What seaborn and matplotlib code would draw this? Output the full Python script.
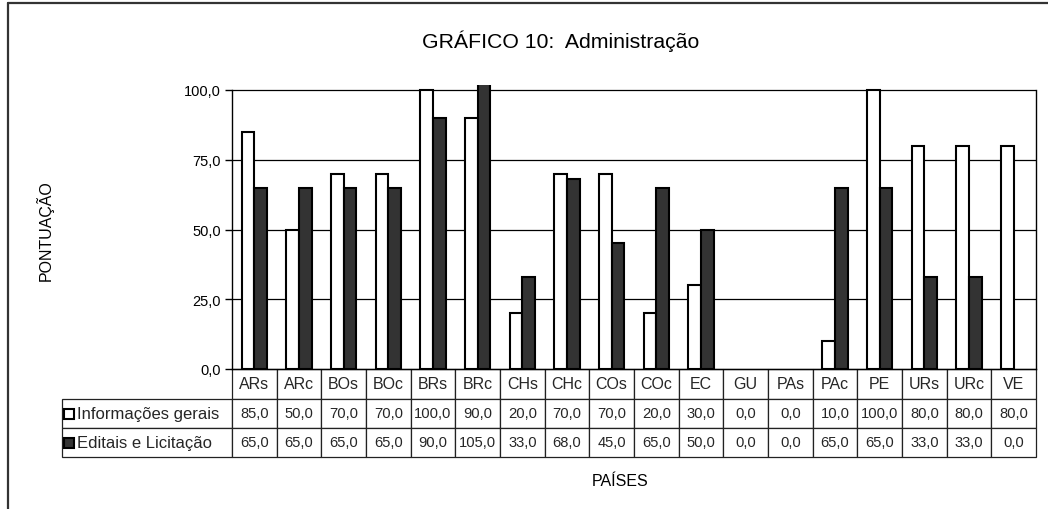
import matplotlib
matplotlib.use('Agg')
import matplotlib.pyplot as plt
import seaborn as sns
import pandas as pd
from matplotlib.patches import Rectangle
from matplotlib.lines import Line2D
from matplotlib.table import Table
from matplotlib import font_manager

# ---------------- data ----------------
paises = ['ARs', 'ARc', 'BOs', 'BOc', 'BRs', 'BRc', 'CHs', 'CHc', 'COs',
          'COc', 'EC', 'GU', 'PAs', 'PAc', 'PE', 'URs', 'URc', 'VE']
info_gerais = [85, 50, 70, 70, 100, 90, 20, 70, 70, 20, 30, 0, 0, 10, 100, 80, 80, 80]
editais = [65, 65, 65, 65, 90, 105, 33, 68, 45, 65, 50, 0, 0, 65, 65, 33, 33, 0]
series = ['Informações gerais', 'Editais e Licitação']
yticks = [0, 25, 50, 75, 100]
ytick_labels = ['0,0', '25,0', '50,0', '75,0', '100,0']
titulo = 'GRÁFICO 10:  Administração'
ylabel = 'PONTUAÇÃO'
xlabel = 'PAÍSES'
cores = ['white', '#333333']

# ---------------- style ----------------
sns.set_theme(style='white')
plt.rcParams['font.family'] = ['Liberation Sans', 'DejaVu Sans']
names = {f.name for f in font_manager.fontManager.ttflist}
if 'Liberation Sans Narrow' in names:
    num_font, num_size = 'Liberation Sans Narrow', 11.5
else:
    num_font, num_size = 'Liberation Sans', 10.6

df = pd.DataFrame({
    'País': paises * 2,
    'Pontuação': info_gerais + editais,
    'Série': [series[0]] * len(paises) + [series[1]] * len(paises),
})

W, H = 1048, 510
fig = plt.figure(figsize=(W / 100, H / 100), dpi=100)
fig.patch.set_facecolor('white')


def fx(px):
    return px / W


def fy(py):
    return 1 - py / H


ax_left, ax_right, ax_bottom, ax_top = 232, 1036, 370, 86
ax = fig.add_axes([fx(ax_left), fy(ax_bottom), (ax_right - ax_left) / W, (ax_bottom - ax_top) / H])
ax.set_facecolor('white')

sns.barplot(data=df, x='País', y='Pontuação', hue='Série', palette=cores,
            edgecolor='black', linewidth=1.5, width=2 / 3.5, gap=0,
            legend=False, errorbar=None, ax=ax, zorder=2)

# zero-valued bars are not drawn in the reference
for p in ax.patches:
    if p.get_height() == 0:
        p.set_visible(False)

px_per_unit = (370 - 91) / 100
ax.set_ylim(0, (ax_bottom - ax_top) / px_per_unit)
ax.set_xlim(-0.5, len(paises) - 0.5)

for y in yticks[1:]:
    ax.axhline(y, color='black', lw=0.9, zorder=0.5)

ax.set_yticks(yticks)
ax.set_yticklabels(ytick_labels)
ax.tick_params(axis='y', left=True, direction='out', length=5, width=1,
               colors='black', labelsize=10.5, pad=3)
ax.tick_params(axis='x', bottom=False, labelbottom=False)
ax.set_xlabel('')
ax.set_ylabel('')
ax.spines['top'].set_visible(False)
for s in ['left', 'right', 'bottom']:
    ax.spines[s].set_color('black')
    ax.spines[s].set_linewidth(1.0)
ax.spines['left'].set_bounds(0, 100)
ax.spines['right'].set_bounds(0, 100)


def fmt(v):
    return f'{v:.1f}'.replace('.', ',')


# ---------------- data table ----------------
ax_h = ax_bottom - ax_top
ax_w = ax_right - ax_left
tab_h = 458 - 370
tab = Table(ax, bbox=[0, -tab_h / ax_h, 1, tab_h / ax_h])
tab.auto_set_font_size(False)
ncol = len(paises)
for j, p in enumerate(paises):
    c = tab.add_cell(0, j, width=1 / ncol, height=30, text=p, loc='center',
                     edgecolor='#222222', facecolor='white')
    c.set_linewidth(0.9)
    c.get_text().set_fontsize(11.5)
for i, vals in enumerate([info_gerais, editais]):
    c = tab.add_cell(i + 1, -1, width=(ax_left - 62) / ax_w, height=29,
                     text=series[i], loc='left', edgecolor='#222222', facecolor='white')
    c.PAD = 0.09
    c.set_linewidth(0.9)
    c.get_text().set_fontsize(12)
    for j, v in enumerate(vals):
        c = tab.add_cell(i + 1, j, width=1 / ncol, height=29, text=fmt(v),
                         loc='center', edgecolor='#222222', facecolor='white')
        c.set_linewidth(0.9)
        c.get_text().set_fontsize(num_size)
        c.get_text().set_fontfamily(num_font)
ax.add_table(tab)

# legend keys inside the row labels
for i, (cy, col) in enumerate(zip([415, 444], cores)):
    fig.add_artist(Rectangle((fx(64), fy(cy + 5)), 10 / W, 10 / H,
                             transform=fig.transFigure, facecolor=col,
                             edgecolor='black', lw=1.5))

# ---------------- texts ----------------
fig.text(fx(561), fy(41), titulo, ha='center', va='center', fontsize=15.3, color='black')
fig.text(fx(45), fy(231), ylabel, rotation=90, ha='center', va='center', fontsize=11.5, color='black')
fig.text(fx(620), fy(482), xlabel, ha='center', va='center', fontsize=11.5, color='black')

# outer chart frame (top and left edges)
fig.add_artist(Line2D([fx(8), 1], [fy(4), fy(4)], transform=fig.transFigure, color='#333333', lw=1.6))
fig.add_artist(Line2D([fx(8), fx(8)], [fy(4), 0], transform=fig.transFigure, color='#333333', lw=1.6))

fig.savefig('out.png', dpi=100, facecolor='white')
